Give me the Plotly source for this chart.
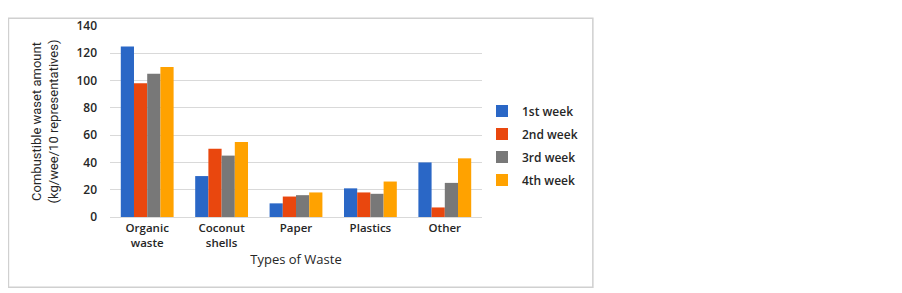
import plotly.graph_objects as go

categories = ["Organic<br>waste", "Coconut<br>shells", "Paper", "Plastics", "Other"]
series_names = ["1st week", "2nd week", "3rd week", "4th week"]
week1 = [125, 30, 10, 21, 40]
week2 = [98, 50, 15, 18, 7]
week3 = [105, 45, 16, 17, 25]
week4 = [110, 55, 18, 26, 43]
colors = ["#2A67C6", "#E9470E", "#787878", "#FFA200"]
y_ticks = [0, 20, 40, 60, 80, 100, 120, 140]

fig = go.Figure()
for name, vals, col in zip(series_names, [week1, week2, week3, week4], colors):
    fig.add_trace(go.Bar(x=categories, y=vals, name=name, legendgroup=name,
                         marker=dict(color=col, line=dict(width=0))))

font_main = "Open Sans, Liberation Sans, sans-serif"
fig.update_layout(
    width=894, height=285,
    margin=dict(l=102, r=420, t=9, b=76),
    paper_bgcolor="white", plot_bgcolor="white",
    barmode="group", bargap=0.29, bargroupgap=0,
    font=dict(family=font_main, size=11, color="#262626"),
    legend=dict(x=1.0, y=0.375, xanchor="left", yanchor="middle",
                bgcolor="rgba(0,0,0,0)",
                font=dict(family=font_main, size=12, color="#262626", weight=600),
                itemwidth=30, tracegroupgap=4),
    showlegend=True,
)
fig.update_xaxes(
    showgrid=False, showline=True, linecolor="#d9d9d9", linewidth=1,
    tickfont=dict(family=font_main, size=11.5, color="#262626", weight=600),
    title=dict(text="Types of Waste", font=dict(family=font_main, size=13, color="#262626", weight=500), standoff=6),
    ticks="", fixedrange=True,
)
fig.update_yaxes(
    range=[0, 140], tickvals=y_ticks, showgrid=True, gridcolor="#d9d9d9", gridwidth=1,
    zeroline=False, showline=False, ticks="",
    tickfont=dict(family=font_main, size=12, color="#262626", weight=600),
    title=dict(text="Combustible waset amount<br>(kg/wee/10 representatives)",
               font=dict(family="Liberation Sans Narrow, Roboto, sans-serif", size=13, color="#262626"),
               standoff=14),
    ticklabelstandoff=12,
)
fig.add_shape(type="rect", xref="paper", yref="paper",
              x0=-0.273, x1=1.298, y0=-0.368, y1=1.04,
              line=dict(color="#d0d0d0", width=1.5), fillcolor="rgba(0,0,0,0)", layer="below")

fig.write_html("out.html")
